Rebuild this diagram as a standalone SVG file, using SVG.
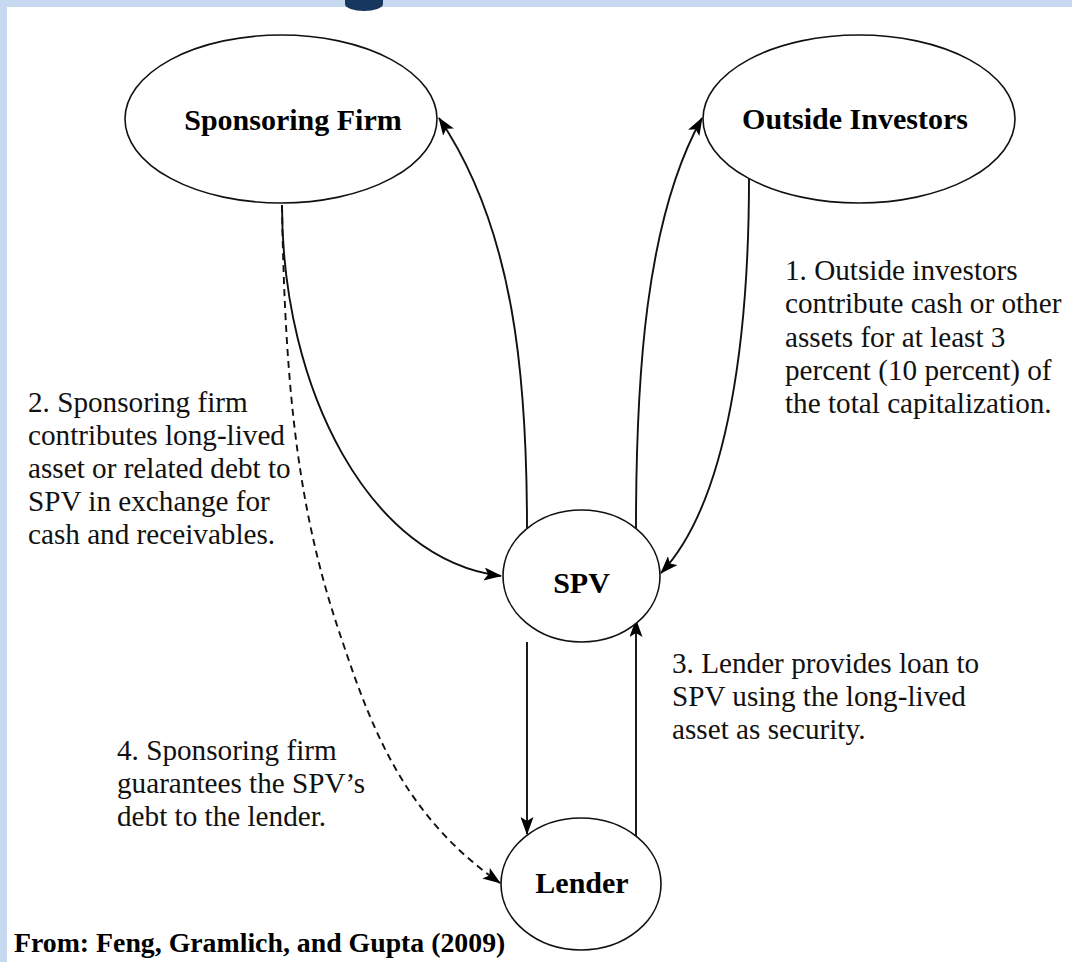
<svg xmlns="http://www.w3.org/2000/svg" width="1072" height="962" viewBox="0 0 1072 962">
<style>
.node{fill:#fff;stroke:#111;stroke-width:1.6}
.lbl{font-family:"Liberation Serif","Times New Roman",serif;font-weight:bold;font-size:30px;fill:#000;text-anchor:middle}
.note{font-family:"Liberation Serif","Times New Roman",serif;font-size:29.2px;fill:#111}
.cap{font-family:"Liberation Serif","Times New Roman",serif;font-weight:bold;font-size:27.8px;fill:#000}
.edge{fill:none;stroke:#111;stroke-width:1.9}
.dash{stroke-dasharray:7 5}
</style>
<defs>
<marker id="arr" viewBox="0 0 18 13" refX="17" refY="6.5" markerWidth="18" markerHeight="13" markerUnits="userSpaceOnUse" orient="auto">
<path d="M0,0 L18,6.5 L0,13 L4,6.5 z" fill="#000"/>
</marker>
</defs>
<rect x="0" y="0" width="1072" height="962" fill="#fff"/>
<rect x="0" y="0" width="1072" height="7" fill="#c6d9f0"/>
<rect x="0" y="0" width="7" height="962" fill="#c6d9f0"/>
<path d="M345,0 L383,0 L383,4 A19,7 0 0 1 345,4 z" fill="#17375e"/>
<g id="connectors">
<path class="edge" d="M282,205 C282,390 370,560 501,576" marker-end="url(#arr)"/>
<path class="edge" d="M527,528 C527,380 515,230 439,118" marker-end="url(#arr)"/>
<path class="edge" d="M636,528 C636,380 645,220 702,118" marker-end="url(#arr)"/>
<path class="edge" d="M749,178 C749,330 730,500 661,573" marker-end="url(#arr)"/>
<path class="edge" d="M527,642 L527,834" marker-end="url(#arr)"/>
<path class="edge" d="M636,836 L636,620" marker-end="url(#arr)"/>
<path class="edge dash" d="M282,205 C285,400 300,520 343,643 C375,740 410,820 500,883" marker-end="url(#arr)"/>
</g>
<g id="sponsoring-firm">
<ellipse class="node" cx="281" cy="119" rx="156" ry="84"/>
<text class="lbl" x="293" y="130">Sponsoring Firm</text>
</g>
<g id="outside-investors">
<ellipse class="node" cx="859" cy="119" rx="156" ry="84"/>
<text class="lbl" x="855" y="129">Outside Investors</text>
</g>
<g id="spv">
<ellipse class="node" cx="581.5" cy="576" rx="78.5" ry="66"/>
<text class="lbl" x="581.5" y="593">SPV</text>
</g>
<g id="lender">
<ellipse class="node" cx="581" cy="884" rx="80" ry="66"/>
<text class="lbl" x="582" y="893">Lender</text>
</g>
<g id="note1">
<text class="note" x="785" y="280">1. Outside investors</text>
<text class="note" x="785" y="313.3">contribute cash or other</text>
<text class="note" x="785" y="346.5">assets for at least 3</text>
<text class="note" x="785" y="379.8">percent (10 percent) of</text>
<text class="note" x="785" y="413">the total capitalization.</text>
</g>
<g id="note2">
<text class="note" x="28" y="412">2. Sponsoring firm</text>
<text class="note" x="28" y="445">contributes long-lived</text>
<text class="note" x="28" y="478">asset or related debt to</text>
<text class="note" x="28" y="511">SPV in exchange for</text>
<text class="note" x="28" y="544">cash and receivables.</text>
</g>
<g id="note3">
<text class="note" x="672" y="673">3. Lender provides loan to</text>
<text class="note" x="672" y="706">SPV using the long-lived</text>
<text class="note" x="672" y="739">asset as security.</text>
</g>
<g id="note4">
<text class="note" x="117" y="760">4. Sponsoring firm</text>
<text class="note" x="117" y="793">guarantees the SPV’s</text>
<text class="note" x="117" y="826">debt to the lender.</text>
</g>
<text class="cap" x="14" y="952">From: Feng, Gramlich, and Gupta (2009)</text>
</svg>
